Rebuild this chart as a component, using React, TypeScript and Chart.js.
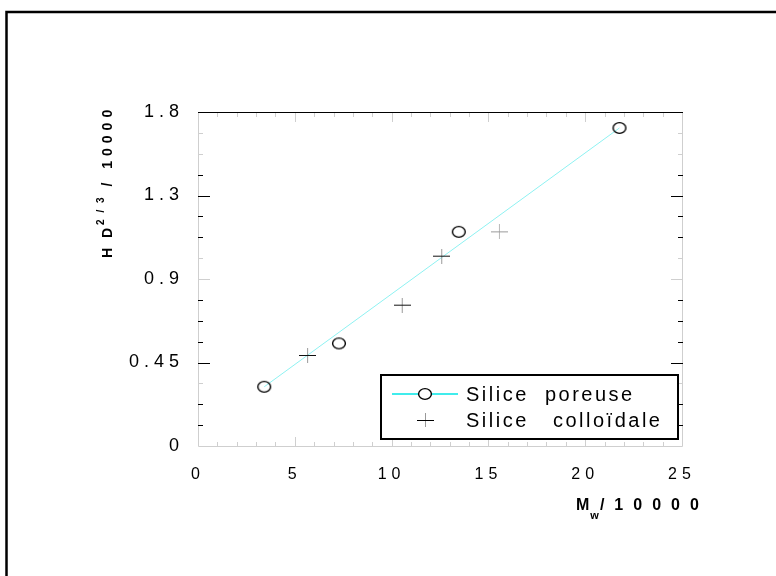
import React, { useEffect, useRef } from 'react';
import { Chart, registerables } from 'chart.js';

Chart.register(...registerables);

// ---- data ----
const poreuseX = [3.42, 7.28, 13.47, 21.77];
const poreuseY = [0.319, 0.553, 1.154, 1.714];
const colloX = [5.66, 10.55, 12.59, 15.57];
const colloY = [0.488, 0.759, 1.023, 1.154];
const fitX = [3.42, 21.77];
const fitY = [0.319, 1.714];

const xTickValues = [0, 5, 10, 15, 20, 25];
const xTickLabels = ['0', '5', '10', '15', '20', '25'];
const yTickValues = [0, 0.45, 0.9, 1.35, 1.8];
const yTickLabels = ['0', '0.45', '0.9', '1.3', '1.8'];
const xMinorTicks = [1, 2, 3, 4, 6, 7, 8, 9, 11, 12, 13, 14, 16, 17, 18, 19, 21, 22, 23, 24];
const xMajorInner = [5, 10, 15, 20];
const yMinorTicks = [0.1125, 0.225, 0.3375, 0.5625, 0.675, 0.7875, 1.0125, 1.125, 1.2375, 1.4625, 1.575, 1.6875];
const yMajorInner = [0.45, 0.9, 1.35];
const yFaintTicks = [0.3375, 0.9, 1.0125, 1.575, 1.6875];

const legendLabels = ['Silice  poreuse', 'Silice   colloïdale'];
const xTitleMain = 'M';
const xTitleSub = 'w';
const xTitleRest = '/10000';
const yTitleMain = 'H D';
const yTitleSup = '2 / 3';
const yTitleRest = ' / 10000';

const FONT = '"Liberation Sans", Arial, Helvetica, sans-serif';

function makeCircle(): HTMLCanvasElement {
  const c = document.createElement('canvas');
  c.width = 16;
  c.height = 14;
  const g = c.getContext('2d')!;
  g.strokeStyle = '#000';
  g.lineWidth = 1.4;
  g.beginPath();
  g.ellipse(8, 7, 6.4, 5.4, 0, 0, Math.PI * 2);
  g.stroke();
  return c;
}

function makeCross(h: string, v: string): HTMLCanvasElement {
  const c = document.createElement('canvas');
  c.width = 17;
  c.height = 15;
  const g = c.getContext('2d')!;
  g.lineWidth = 1;
  g.strokeStyle = v;
  g.beginPath();
  g.moveTo(8.5, 0);
  g.lineTo(8.5, 15);
  g.stroke();
  g.strokeStyle = h;
  g.beginPath();
  g.moveTo(0, 7.5);
  g.lineTo(17, 7.5);
  g.stroke();
  return c;
}

const decor = {
  id: 'decor',
  beforeDraw(chart: any) {
    (chart.ctx as any).letterSpacing = '5px';
  },
  afterDatasetsDraw(chart: any) {
    (chart.ctx as any).letterSpacing = '6px';
  },
  afterDraw(chart: any) {
    const ctx = chart.ctx as CanvasRenderingContext2D & { letterSpacing: string };
    ctx.save();
    ctx.letterSpacing = '0px';
    const { left, right, top, bottom } = chart.chartArea;
    const xs = chart.scales.x;
    const ys = chart.scales.y;

    // outer figure frame
    ctx.strokeStyle = '#000';
    ctx.lineWidth = 2.5;
    ctx.beginPath();
    ctx.moveTo(6.5, 576);
    ctx.lineTo(6.5, 12);
    ctx.lineTo(776, 12);
    ctx.stroke();

    // plot frame
    const faint = '#cfcfcf';
    ctx.lineWidth = 1;
    ctx.strokeStyle = faint;
    ctx.beginPath();
    ctx.moveTo(left + 0.5, top);
    ctx.lineTo(left + 0.5, bottom + 0.5);
    ctx.lineTo(right + 0.5, bottom + 0.5);
    ctx.lineTo(right + 0.5, top);
    ctx.stroke();
    ctx.strokeStyle = '#000';
    ctx.beginPath();
    ctx.moveTo(left, top + 0.5);
    ctx.lineTo(right + 1, top + 0.5);
    ctx.stroke();

    // y ticks (inside, left and right)
    const yAll = [...yMinorTicks, ...yMajorInner];
    yAll.forEach((v) => {
      const py = Math.round(ys.getPixelForValue(v)) + 0.5;
      const len = yMajorInner.includes(v) ? 12 : 5;
      ctx.strokeStyle = yFaintTicks.includes(v) ? faint : '#000';
      ctx.beginPath();
      ctx.moveTo(left, py);
      ctx.lineTo(left + len, py);
      ctx.moveTo(right + 1, py);
      ctx.lineTo(right + 1 - len, py);
      ctx.stroke();
    });

    // x ticks (inside, top and bottom)
    const xAll = [...xMinorTicks, ...xMajorInner];
    ctx.strokeStyle = faint;
    xAll.forEach((v) => {
      const px = Math.round(xs.getPixelForValue(v)) + 0.5;
      const len = xMajorInner.includes(v) ? 9 : 4;
      ctx.beginPath();
      ctx.moveTo(px, bottom);
      ctx.lineTo(px, bottom - len);
      ctx.moveTo(px, top + 1);
      ctx.lineTo(px, top + 1 + len);
      ctx.stroke();
    });

    ctx.fillStyle = '#000';
    ctx.textAlign = 'left';
    ctx.textBaseline = 'alphabetic';

    // x title
    ctx.font = `bold 16px ${FONT}`;
    ctx.letterSpacing = '1px';
    let tx = 576;
    ctx.fillText(xTitleMain, tx, 510);
    tx += ctx.measureText(xTitleMain).width;
    ctx.font = `bold 11px ${FONT}`;
    ctx.fillText(xTitleSub, tx, 519);
    tx += ctx.measureText(xTitleSub).width;
    ctx.font = `bold 16px ${FONT}`;
    ctx.letterSpacing = '10px';
    ctx.fillText(xTitleRest, tx, 510);

    // y title (rotated)
    ctx.save();
    ctx.translate(112, 258);
    ctx.rotate(-Math.PI / 2);
    ctx.font = `bold 14px ${FONT}`;
    ctx.letterSpacing = '3px';
    let ty = 0;
    ctx.fillText(yTitleMain, ty, 0);
    ty += ctx.measureText(yTitleMain).width;
    ctx.font = `bold 10px ${FONT}`;
    ctx.letterSpacing = '2px';
    ctx.fillText(yTitleSup, ty, -8);
    ty += ctx.measureText(yTitleSup).width;
    ctx.font = `bold 14px ${FONT}`;
    ctx.letterSpacing = '5px';
    ctx.fillText(yTitleRest, ty, 0);
    ctx.restore();

    // legend
    ctx.letterSpacing = '0px';
    ctx.fillStyle = '#fff';
    ctx.fillRect(381, 375, 297, 64);
    ctx.strokeStyle = '#000';
    ctx.lineWidth = 2;
    ctx.strokeRect(381, 375, 297, 64);
    ctx.strokeStyle = '#00e6e6';
    ctx.lineWidth = 1.5;
    ctx.beginPath();
    ctx.moveTo(392, 394);
    ctx.lineTo(458, 394);
    ctx.stroke();
    ctx.fillStyle = '#fff';
    ctx.strokeStyle = '#000';
    ctx.lineWidth = 1.4;
    ctx.beginPath();
    ctx.ellipse(425, 394, 6.4, 5.4, 0, 0, Math.PI * 2);
    ctx.fill();
    ctx.stroke();
    ctx.lineWidth = 1;
    ctx.strokeStyle = '#999';
    ctx.beginPath();
    ctx.moveTo(425.5, 413);
    ctx.lineTo(425.5, 427);
    ctx.stroke();
    ctx.strokeStyle = '#000';
    ctx.beginPath();
    ctx.moveTo(417, 420.5);
    ctx.lineTo(434, 420.5);
    ctx.stroke();
    ctx.fillStyle = '#000';
    ctx.font = `20px ${FONT}`;
    ctx.letterSpacing = '2.5px';
    ctx.fillText(legendLabels[0], 466, 401);
    ctx.fillText(legendLabels[1], 466, 427);

    ctx.restore();
  },
};

export default function App() {
  const ref = useRef<HTMLCanvasElement>(null);
  useEffect(() => {
    const canvas = ref.current!;
    const circleImg = makeCircle();
    const crossDark = makeCross('#111', '#9a9a9a');
    const crossLight = makeCross('#9a9a9a', '#b8b8b8');
    const chart = new Chart(canvas, {
      type: 'scatter',
      data: {
        datasets: [
          {
            label: 'fit',
            data: fitX.map((x, i) => ({ x, y: fitY[i] })),
            showLine: true,
            borderColor: '#8ef2f2',
            borderWidth: 1,
            pointRadius: 0,
            order: 3,
          },
          {
            label: legendLabels[0],
            data: poreuseX.map((x, i) => ({ x, y: poreuseY[i] })),
            pointStyle: circleImg as any,
            pointRadius: 7,
            showLine: false,
            order: 1,
          },
          {
            label: legendLabels[1],
            data: colloX.map((x, i) => ({ x, y: colloY[i] })),
            pointStyle: [crossDark, crossDark, crossDark, crossLight] as any,
            pointRadius: 8,
            showLine: false,
            order: 2,
          },
        ],
      },
      options: {
        responsive: false,
        animation: false,
        events: [],
        layout: { padding: { left: 0, top: 112, right: 94, bottom: 0 } },
        plugins: { legend: { display: false }, tooltip: { enabled: false } },
        scales: {
          x: {
            type: 'linear',
            min: 0,
            max: 25,
            z: 1,
            afterBuildTicks: (s: any) => {
              s.ticks = xTickValues.map((v) => ({ value: v }));
            },
            afterFit: (s: any) => {
              s.height = 130;
            },
            grid: { display: false, drawTicks: false },
            border: { display: false },
            ticks: {
              color: '#000',
              font: { family: FONT, size: 16 },
              padding: 19,
              maxRotation: 0,
              autoSkip: false,
              callback: (_v: any, i: number) => xTickLabels[i],
            },
          },
          y: {
            type: 'linear',
            min: 0,
            max: 1.8,
            afterBuildTicks: (s: any) => {
              s.ticks = yTickValues.map((v) => ({ value: v }));
            },
            afterFit: (s: any) => {
              s.width = 198;
            },
            grid: { display: false, drawTicks: false },
            border: { display: false },
            ticks: {
              color: '#000',
              font: { family: FONT, size: 18 },
              padding: 14,
              autoSkip: false,
              callback: (_v: any, i: number) => yTickLabels[i],
            },
          },
        },
      },
      plugins: [decor],
    });
    return () => chart.destroy();
  }, []);
  return (
    <div style={{ position: 'absolute', left: 0, top: 0, width: 776, height: 576, background: '#fff' }}>
      <canvas ref={ref} width={776} height={576} style={{ display: 'block', width: 776, height: 576 }} />
    </div>
  );
}
